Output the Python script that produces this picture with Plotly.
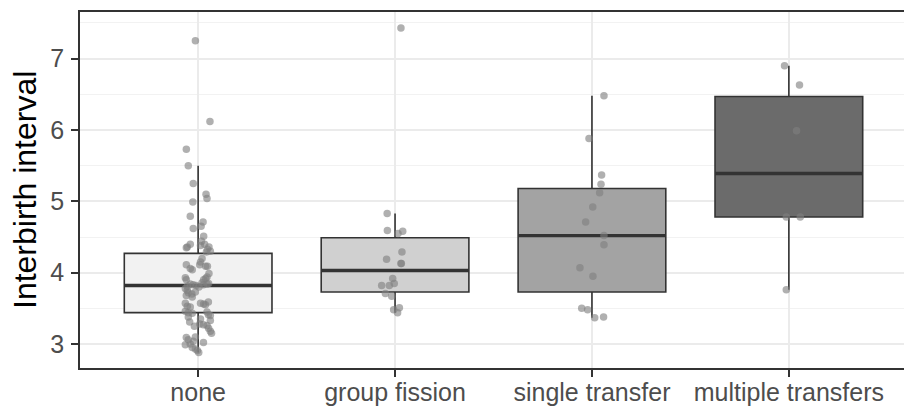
import plotly.graph_objects as go

categories = ["none", "group fission", "single transfer", "multiple transfers"]
box_fill = ["#f2f2f2", "#d0d0d0", "#a3a3a3", "#6b6b6b"]

# box statistics
q1 = [3.44, 3.73, 3.73, 4.78]
median = [3.82, 4.03, 4.52, 5.39]
q3 = [4.27, 4.49, 5.18, 6.47]
lower_whisker = [2.88, 3.44, 3.37, 3.76]
upper_whisker = [5.50, 4.83, 6.48, 6.90]

# observations and their horizontal jitter (category units)
none_values = [7.25, 6.12, 5.73, 5.50, 5.25, 5.10, 5.04, 4.99, 4.79, 4.71, 4.65, 4.62,
               4.51, 4.44, 4.40, 4.36, 4.35, 4.40, 4.36, 4.33, 4.30, 4.29, 4.38, 4.20,
               4.15, 4.11, 4.11, 4.09, 4.09, 4.06, 4.04, 3.99, 3.94, 3.92, 3.93, 3.90,
               3.90, 3.86, 3.85, 3.84, 3.83, 3.82, 3.81, 3.80, 3.83, 3.84, 3.78, 3.75,
               3.72, 3.70, 3.73, 3.68, 3.66, 3.59, 3.57, 3.57, 3.56, 3.55, 3.53, 3.52,
               3.46, 3.44, 3.43, 3.45, 3.41, 3.40, 3.38, 3.35, 3.33, 3.31, 3.28, 3.27,
               3.26, 3.25, 3.22, 3.18, 3.15, 3.09, 3.06, 3.04, 3.10, 3.02, 2.99, 2.95,
               2.93, 2.91, 2.88, 3.00]
none_jitter = [-0.014, 0.060, -0.060, -0.050, -0.025, 0.040, 0.045, -0.027, -0.040, 0.025, 0.015, -0.025,
               0.028, 0.017, -0.040, -0.055, -0.060, 0.033, 0.055, 0.047, 0.062, 0.042, 0.012, 0.020,
               0.012, 0.008, -0.060, 0.038, 0.047, -0.040, -0.030, 0.055, 0.045, 0.038, -0.065, -0.060,
               0.028, 0.020, 0.053, -0.040, -0.025, -0.010, -0.055, 0.004, 0.027, 0.045, -0.065, -0.055,
               -0.050, -0.032, -0.014, -0.060, -0.030, 0.052, -0.065, 0.012, 0.028, 0.037, -0.055, -0.040,
               -0.065, -0.050, -0.030, 0.045, 0.052, 0.062, -0.050, 0.012, 0.062, -0.043, 0.008, 0.027,
               0.045, -0.019, 0.053, 0.062, 0.068, -0.060, -0.050, -0.025, -0.014, 0.027, -0.065, -0.030,
               -0.014, -0.004, 0.003, -0.040]

fission_values = [7.43, 4.83, 4.59, 4.55, 4.58, 4.29, 4.19, 4.13, 4.13, 3.92, 3.85, 3.82,
                  3.82, 3.71, 3.67, 3.48, 3.51, 3.44]
fission_jitter = [0.030, -0.040, -0.039, 0.015, 0.039, 0.035, -0.043, 0.030, 0.032, -0.012, -0.004, -0.068,
                  -0.029, -0.049, -0.017, -0.007, 0.022, 0.013]

single_values = [6.48, 5.88, 5.37, 5.24, 5.12, 4.92, 4.71, 4.52, 4.39, 4.07, 3.95, 3.50,
                 3.48, 3.37, 3.38]
single_jitter = [0.061, -0.015, 0.049, 0.046, 0.039, 0.004, -0.032, 0.061, 0.061, -0.061, 0.005, -0.052,
                 -0.022, 0.014, 0.059]

multiple_values = [6.90, 6.63, 5.99, 4.78, 4.78, 3.76]
multiple_jitter = [-0.022, 0.054, 0.039, -0.013, 0.058, -0.013]

values = [none_values, fission_values, single_values, multiple_values]
jitters = [none_jitter, fission_jitter, single_jitter, multiple_jitter]

box_width = 0.75
line_col = "#333333"

fig = go.Figure()
for i, cat in enumerate(categories):
    fig.add_trace(go.Box(
        x=[i], q1=[q1[i]], median=[median[i]], q3=[q3[i]],
        lowerfence=[lower_whisker[i]], upperfence=[upper_whisker[i]],
        width=box_width, whiskerwidth=0, boxpoints=False,
        fillcolor=box_fill[i], line=dict(color=line_col, width=1.6),
        name=cat, showlegend=False, hoverinfo="skip",
    ))

for i in range(len(categories)):
    fig.add_trace(go.Scatter(
        x=[i - box_width / 2, i + box_width / 2], y=[median[i], median[i]],
        mode="lines", line=dict(color=line_col, width=3.4),
        showlegend=False, hoverinfo="skip",
    ))

for i in range(len(categories)):
    fig.add_trace(go.Scatter(
        x=[i + j for j in jitters[i]], y=values[i], mode="markers",
        marker=dict(color="#7f7f7f", opacity=0.62, size=7.5, line=dict(width=0)),
        showlegend=False,
    ))

fig.add_annotation(
    text="Interbirth interval", xref="paper", yref="paper", x=0, y=0.5,
    xanchor="center", yanchor="middle", xshift=-55, textangle=-90, showarrow=False,
    font=dict(family="Liberation Sans, Arial, sans-serif", size=32, color="#000000"),
)

# the page body has an 8px margin: the figure is sized so the panel lands where the reference has it
fig.update_layout(
    width=904, height=398,
    margin=dict(l=72, r=5, t=4, b=38),
    paper_bgcolor="white", plot_bgcolor="white",
    font=dict(family="Liberation Sans, Arial, sans-serif"),
    xaxis=dict(
        range=[-0.6, 3.6], tickvals=list(range(len(categories))), ticktext=categories,
        showgrid=True, gridcolor="#ebebeb", gridwidth=2, zeroline=False,
        showline=True, mirror=True, linecolor=line_col, linewidth=1.5,
        ticks="outside", ticklen=7, tickwidth=1.5, tickcolor=line_col,
        tickfont=dict(size=25, color="#4d4d4d"), ticklabelstandoff=-6,
        ticklabelposition="outside",
        automargin=False,
    ),
    yaxis=dict(
        range=[2.664, 7.654], tick0=0, dtick=1,
        showgrid=True, gridcolor="#ebebeb", gridwidth=2, zeroline=False,
        showline=True, mirror=True, linecolor=line_col, linewidth=1.5,
        ticks="outside", ticklen=7, tickwidth=1.5, tickcolor=line_col,
        tickfont=dict(size=25, color="#4d4d4d"), ticklabelstandoff=2,
        ticklabelposition="outside",
        minor=dict(dtick=0.5, tick0=0, showgrid=True, gridcolor="#f2f2f2", gridwidth=1.2, ticklen=0),
        automargin=False,
    ),
)

fig.write_html("out.html")
